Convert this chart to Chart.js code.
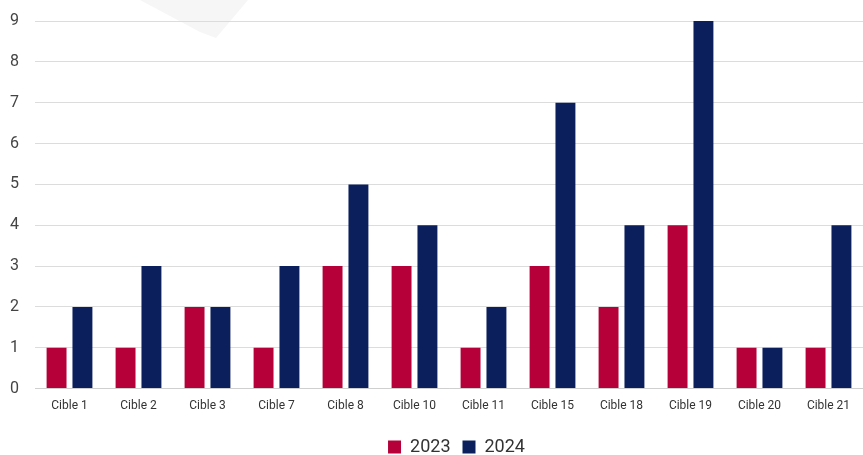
<!DOCTYPE html>
<html>
<head>
<meta charset="utf-8">
<script src="https://cdn.jsdelivr.net/npm/chart.js@4/dist/chart.umd.min.js"></script>
<style>
  html, body { margin: 0; padding: 0; background: #fff; }
  #wrap { width: 863px; height: 455px; position: relative; }
</style>
</head>
<body>
<div id="wrap"><canvas id="chart"></canvas></div>
<script>
var categories = ['Cible 1', 'Cible 2', 'Cible 3', 'Cible 7', 'Cible 8', 'Cible 10',
                  'Cible 11', 'Cible 15', 'Cible 18', 'Cible 19', 'Cible 20', 'Cible 21'];
var values2023 = [1, 1, 2, 1, 3, 3, 1, 3, 2, 4, 1, 1];
var values2024 = [2, 3, 2, 3, 5, 4, 2, 7, 4, 9, 1, 4];

// faint grey shape behind the chart at the top
var backdrop = {
    id: 'backdrop',
    beforeDraw: function(chart) {
        var ctx = chart.ctx;
        ctx.save();
        ctx.fillStyle = '#f6f6f6';
        ctx.beginPath();
        ctx.moveTo(140, 0);
        ctx.lineTo(248, 0);
        ctx.lineTo(216, 38);
        ctx.lineTo(200, 32);
        ctx.closePath();
        ctx.fill();
        ctx.restore();
    }
};

// legend sits a little right of centre
var legendShift = {
    id: 'legendShift',
    afterLayout: function(chart) {
        chart.legend.left += 23;
        chart.legend.right += 23;
    }
};

new Chart(document.getElementById('chart'), {
    type: 'bar',
    data: {
        labels: categories,
        datasets: [
            { label: '2023', data: values2023, backgroundColor: '#b5003a' },
            { label: '2024', data: values2024, backgroundColor: '#0a1f5c' }
        ]
    },
    plugins: [backdrop, legendShift],
    options: {
        responsive: true,
        maintainAspectRatio: false,
        animation: false,
        categoryPercentage: 0.75,
        barPercentage: 0.77,
        layout: { padding: { top: 0, right: 0, left: 4, bottom: -11 } },
        plugins: {
            tooltip: { enabled: false },
            legend: {
                position: 'bottom',
                labels: {
                    boxWidth: 13,
                    boxHeight: 13,
                    padding: 12,
                    color: '#333',
                    font: { family: 'Roboto', size: 18 }
                }
            }
        },
        scales: {
            x: {
                afterFit: function(scale) { scale.height += 11; },
                grid: { display: false },
                border: { color: '#cfcfcf' },
                ticks: { color: '#333', font: { family: 'Roboto', size: 12 }, padding: 2 }
            },
            y: {
                min: 0,
                max: 9,
                afterFit: function(scale) {
                    scale.width = 31;
                    scale.paddingTop = 21;
                },
                ticks: { stepSize: 1, color: '#444', font: { family: 'Roboto', size: 16 }, padding: 16 },
                grid: { color: '#dcdcdc', drawTicks: false },
                border: { display: false }
            }
        }
    }
});
</script>
</body>
</html>
